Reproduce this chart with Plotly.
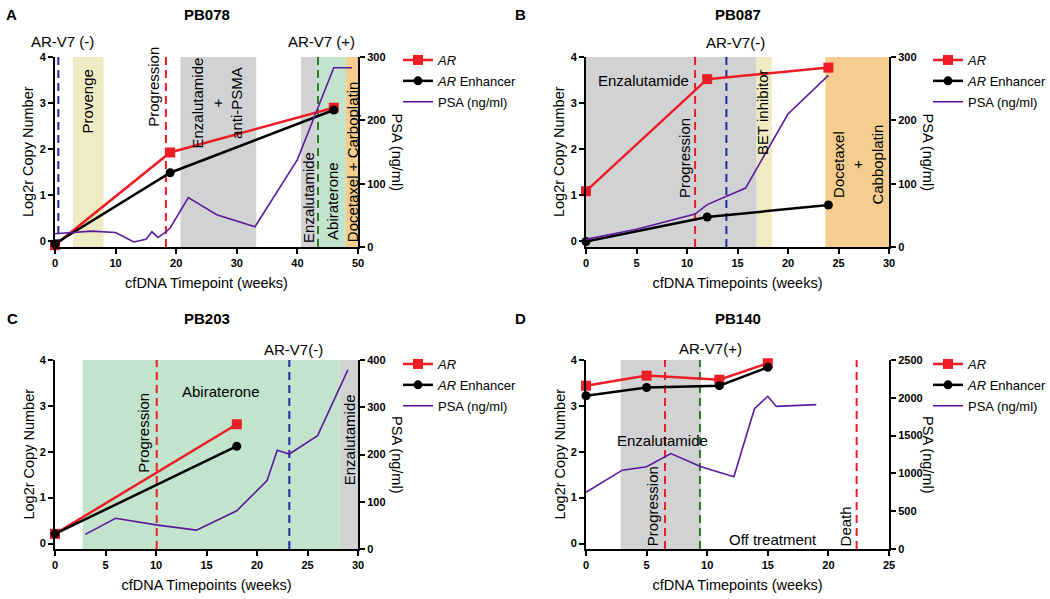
import plotly.graph_objects as go

FONT = "Arial, 'Liberation Sans', Helvetica, sans-serif"
RED = "#EE1C25"
BLACK = "#000000"
PURPLE = "#5B1A9B"
GRAY = "#D1D2D4"
YELLOW = "#EFEBC2"
GREEN = "#C2E4CC"
ORANGE = "#F5CE8F"
BLUE_D = "#1F2D9C"
GREEN_D = "#2F7A2A"

# ---------------- data ----------------
# Panel A  (PB078)
A_ar_x = [0, 19, 46]
A_ar_y = [-0.08, 1.93, 2.90]
A_enh_x = [0, 19, 46]
A_enh_y = [-0.05, 1.49, 2.85]
A_psa_x = [0, 6, 10, 13, 15, 16, 17, 18.2, 19, 22, 26.7, 33, 40, 46, 49]
A_psa_y = [21, 25, 23, 8, 12, 24, 15, 23, 30, 78, 51, 32, 138, 283, 283]
A_shades = [(3, 8, YELLOW), (20.7, 33.2, GRAY), (40.6, 43.2, GRAY),
            (43.2, 48.0, GREEN), (48.0, 50, ORANGE)]
A_vlines = [(0.55, BLUE_D), (18.3, RED), (43.4, GREEN_D)]
A_labels = [("AR-V7 (-)", 1.2, 4.33, 0), ("AR-V7 (+)", 44.0, 4.33, 0),
            ("Provenge", 5.3, 3.04, -90), ("Progression", 16.3, 3.35, -90),
            ("Enzalutamide<br>+<br>anti-PSMA", 26.8, 3.0, -90),
            ("Enzalutamide", 41.8, 0.95, -90), ("Abiraterone", 45.8, 0.87, -90),
            ("Docetaxel + Carboplatin", 49.0, 1.74, -90)]

# Panel B  (PB087)
B_ar_x = [0, 12, 24]
B_ar_y = [1.09, 3.52, 3.77]
B_enh_x = [0, 12, 24]
B_enh_y = [0.0, 0.53, 0.79]
B_psa_x = [0, 5, 10.8, 12, 15.8, 20, 24]
B_psa_y = [12, 28, 52, 67, 93, 210, 271]
B_shades = [(0, 16.9, GRAY), (16.9, 18.4, YELLOW), (23.7, 30, ORANGE)]
B_vlines = [(10.8, RED), (13.9, BLUE_D)]
B_labels = [("AR-V7(-)", 14.8, 4.31, 0), ("Enzalutamide", 5.65, 3.5, 0),
            ("Progression", 9.8, 1.81, -90), ("BET inhibitor", 17.5, 2.8, -90),
            ("Docetaxel<br>+<br>Cabboplatin", 26.9, 1.66, -90)]

# Panel C  (PB203)
C_ar_x = [0, 18]
C_ar_y = [0.21, 2.60]
C_enh_x = [0, 18]
C_enh_y = [0.21, 2.12]
C_psa_x = [3, 6, 10, 14, 18, 21, 22, 23.2, 26, 29]
C_psa_y = [31, 65, 51, 40, 81, 145, 209, 201, 240, 379]
C_shades = [(2.73, 28.2, GREEN), (28.2, 30, GRAY)]
C_vlines = [(10.07, RED), (23.2, BLUE_D)]
C_labels = [("AR-V7(-)", 23.6, 4.22, 0), ("Abiraterone", 16.4, 3.31, 0),
            ("Progression", 8.75, 2.42, -90), ("Enzalutamide", 29.1, 2.27, -90)]

# Panel D  (PB140)
D_ar_x = [0, 5, 11, 15]
D_ar_y = [3.44, 3.66, 3.57, 3.93]
D_enh_x = [0, 5, 11, 15]
D_enh_y = [3.22, 3.40, 3.44, 3.84]
D_psa_x = [0, 3, 5, 7, 9.5, 12.2, 13.9, 15, 15.7, 19]
D_psa_y = [750, 1043, 1088, 1263, 1088, 957, 1855, 2020, 1886, 1910]
D_shades = [(2.86, 9.49, GRAY)]
D_vlines = [(6.52, RED), (9.4, GREEN_D), (22.33, RED)]
D_labels = [("AR-V7(+)", 10.3, 4.26, 0), ("Enzalutamide", 6.33, 2.25, 0),
            ("Progression", 5.55, 0.82, -90), ("Off treatment", 15.4, 0.09, 0),
            ("Death", 21.4, 0.38, -90)]

# ---------------- layout helpers ----------------
W, H = 1050, 599
LEFT_RANGE = [-0.12, 4]
xdomA = [55 / W, 358 / W]
xdomB = [586 / W, 889 / W]
ydomT = [1 - 247 / H, 1 - 57 / H]
ydomB = [1 - 549 / H, 1 - 360 / H]

panels = [
    dict(key="A", name="PB078", xd=xdomA, yd=ydomT, xr=[0, 50], xdt=10, rr=[0, 300], rdt=100,
         xt="cfDNA Timepoint (weeks)", ar=(A_ar_x, A_ar_y), enh=(A_enh_x, A_enh_y),
         psa=(A_psa_x, A_psa_y), shades=A_shades, vlines=A_vlines, labels=A_labels,
         leg_x=398, leg_y=45, head_x=11, name_x=207, head_y=14),
    dict(key="B", name="PB087", xd=xdomB, yd=ydomT, xr=[0, 30], xdt=5, rr=[0, 300], rdt=100,
         xt="cfDNA Timepoints (weeks)", ar=(B_ar_x, B_ar_y), enh=(B_enh_x, B_enh_y),
         psa=(B_psa_x, B_psa_y), shades=B_shades, vlines=B_vlines, labels=B_labels,
         leg_x=928, leg_y=45, head_x=520, name_x=738, head_y=14),
    dict(key="C", name="PB203", xd=xdomA, yd=ydomB, xr=[0, 30], xdt=5, rr=[0, 400], rdt=100,
         xt="cfDNA Timepoints (weeks)", ar=(C_ar_x, C_ar_y), enh=(C_enh_x, C_enh_y),
         psa=(C_psa_x, C_psa_y), shades=C_shades, vlines=C_vlines, labels=C_labels,
         leg_x=398, leg_y=349, head_x=12, name_x=207, head_y=318),
    dict(key="D", name="PB140", xd=xdomB, yd=ydomB, xr=[0, 25], xdt=5, rr=[0, 2500], rdt=500,
         xt="cfDNA Timepoints (weeks)", ar=(D_ar_x, D_ar_y), enh=(D_enh_x, D_enh_y),
         psa=(D_psa_x, D_psa_y), shades=D_shades, vlines=D_vlines, labels=D_labels,
         leg_x=928, leg_y=349, head_x=520, name_x=738, head_y=318),
]

fig = go.Figure()
shapes = []
annotations = []
layout = dict(width=W, height=H, margin=dict(l=0, r=0, t=0, b=0, autoexpand=False),
              template="none",
              paper_bgcolor="white", plot_bgcolor="rgba(0,0,0,0)",
              font=dict(family=FONT, size=14, color="black"))

axis_common = dict(showline=True, linewidth=2, linecolor="black", ticks="outside",
                   ticklen=5, tickwidth=2, tickcolor="black", showgrid=False,
                   zeroline=False, automargin=False,
                   tickfont=dict(family=FONT, size=11, weight="bold"))


def to_domain(v):
    return (v - LEFT_RANGE[0]) / (LEFT_RANGE[1] - LEFT_RANGE[0])


for i, p in enumerate(panels):
    n = i + 1
    xa = "x" if n == 1 else f"x{n}"
    yl_n = 2 * n - 1
    yr_n = 2 * n
    yl = "y" if yl_n == 1 else f"y{yl_n}"
    yr = f"y{yr_n}"
    leg = "legend" if n == 1 else f"legend{n}"
    xkey = "xaxis" if n == 1 else f"xaxis{n}"
    ylkey = "yaxis" if yl_n == 1 else f"yaxis{yl_n}"
    yrkey = f"yaxis{yr_n}"

    layout[xkey] = dict(axis_common, domain=p["xd"], anchor=yl, range=p["xr"], dtick=p["xdt"],
                        tick0=0, title=dict(text=p["xt"], font=dict(size=14.5), standoff=10))
    layout[ylkey] = dict(axis_common, domain=p["yd"], anchor=xa, range=LEFT_RANGE, dtick=1,
                         tick0=0)
    layout[yrkey] = dict(axis_common, overlaying=yl, side="right", anchor=xa,
                         range=p["rr"], dtick=p["rdt"], tick0=0)

    # shaded treatment periods
    for (x0, x1, col) in p["shades"]:
        shapes.append(dict(type="rect", xref=xa, yref=f"{yl} domain", x0=x0, x1=x1, y0=0, y1=1,
                           fillcolor=col, line=dict(width=0), layer="below"))
    # dashed markers
    for (xv, col) in p["vlines"]:
        shapes.append(dict(type="line", xref=xa, yref=f"{yl} domain", x0=xv, x1=xv, y0=0, y1=1,
                           line=dict(color=col, width=2, dash="8px,5px"), layer="below"))

    fig.add_trace(go.Scatter(x=p["ar"][0], y=p["ar"][1], xaxis=xa, yaxis=yl,
                             mode="lines+markers", name="<i>AR</i>", legend=leg,
                             legendgroup=f"{p['key']}1",
                             line=dict(color=RED, width=2.5),
                             marker=dict(symbol="square", size=10, color=RED),
                             cliponaxis=False))
    fig.add_trace(go.Scatter(x=p["enh"][0], y=p["enh"][1], xaxis=xa, yaxis=yl,
                             mode="lines+markers", name="<i>AR</i> Enhancer", legend=leg,
                             legendgroup=f"{p['key']}2",
                             line=dict(color=BLACK, width=2.5),
                             marker=dict(symbol="circle", size=9, color=BLACK),
                             cliponaxis=False))
    fig.add_trace(go.Scatter(x=p["psa"][0], y=p["psa"][1], xaxis=xa, yaxis=yr,
                             mode="lines", name="PSA (ng/ml)", legend=leg,
                             legendgroup=f"{p['key']}3",
                             line=dict(color=PURPLE, width=1.6), cliponaxis=False))

    layout[leg] = dict(x=p["leg_x"] / W, y=1 - p["leg_y"] / H, xanchor="left", yanchor="top",
                       font=dict(family=FONT, size=13), bgcolor="rgba(0,0,0,0)",
                       tracegroupgap=1, itemwidth=30)

    for (txt, xv, yv, ang) in p["labels"]:
        annotations.append(dict(text=txt, x=xv, y=to_domain(yv), xref=xa, yref=f"{yl} domain",
                                showarrow=False, textangle=ang, font=dict(size=15),
                                xanchor="center", yanchor="middle"))
    # left axis title
    annotations.append(dict(text="Log2r Copy Number", x=-0.089, y=0.5, xref=f"{xa} domain",
                            yref=f"{yl} domain", showarrow=False, textangle=-90,
                            font=dict(size=14.5), xanchor="center", yanchor="middle"))
    # right axis title (rotated clockwise)
    annotations.append(dict(text="PSA (ng/ml)", x=1.13, y=0.5, xref=f"{xa} domain",
                            yref=f"{yl} domain", showarrow=False, textangle=90,
                            font=dict(size=14.5), xanchor="center", yanchor="middle"))
    # panel letter and patient id
    annotations.append(dict(text=f"<b>{p['key']}</b>", x=p["head_x"] / W, y=1 - p["head_y"] / H,
                            xref="paper", yref="paper", showarrow=False, font=dict(size=15),
                            xanchor="center", yanchor="middle"))
    annotations.append(dict(text=f"<b>{p['name']}</b>", x=p["name_x"] / W, y=1 - p["head_y"] / H,
                            xref="paper", yref="paper", showarrow=False, font=dict(size=15),
                            xanchor="center", yanchor="middle"))

layout["shapes"] = shapes
layout["annotations"] = annotations
fig.update_layout(**layout)
fig.write_html("out.html", config={"displayModeBar": False},
               post_script="document.body.style.margin='0px';")
